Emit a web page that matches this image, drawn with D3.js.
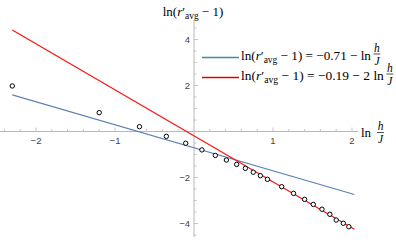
<!DOCTYPE html>
<html><head><meta charset="utf-8">
<script src="https://cdn.jsdelivr.net/npm/d3@7"></script>
<style>
html,body{margin:0;padding:0;background:#fff;}
svg{display:block;}
</style></head>
<body>
<script>
// ---- data ----
const xPoints = [-2.30, -1.20, -0.69, -0.35, -0.105, 0.10, 0.27, 0.41, 0.54, 0.65, 0.75, 0.84, 0.93, 1.11, 1.26, 1.40, 1.51, 1.62, 1.72, 1.80, 1.89, 1.96];
const yPoints = [1.98, 0.82, 0.21, -0.21, -0.51, -0.80, -1.04, -1.24, -1.43, -1.60, -1.77, -1.92, -2.08, -2.40, -2.69, -2.95, -3.17, -3.38, -3.60, -3.85, -3.99, -4.14];
const fitNames = ["blue", "red"];
const fitIntercepts = [-0.71, -0.19];
const fitSlopes = [-1, -2];
const fitCoefText = ["\u22120.71  \u2212 ln", "\u22120.19  \u2212 2 ln"];
const fitRange = [-2.30, 2.03];
const xTicks = [-2, -1, 1, 2];
const yTicks = [-4, -2, 2, 4];

const W = 396, H = 244;
const colors = {blue: "#5E81B5", red: "#FF1010"};
const legendColors = {blue: "#4a86aa", red: "#e00000"};

const svg = d3.select("body").append("svg").attr("width", W).attr("height", H);

const x = d3.scaleLinear().domain([-2, 2]).range([36, 352]);
const y = d3.scaleLinear().domain([-4, 4]).range([223.5, 39.5]);

const axisColor = "#b8b8b8";
const tickTextColor = "#444";
const serif = "'Liberation Serif', 'DejaVu Serif', serif";
const sans = "'Liberation Sans', Arial, sans-serif";

// axes
const ax = svg.append("g");
ax.append("line").attr("x1", 0).attr("x2", x(2.08)).attr("y1", y(0)).attr("y2", y(0))
  .attr("stroke", axisColor).attr("stroke-width", 1);
ax.append("line").attr("x1", x(0)).attr("x2", x(0)).attr("y1", y(4.85)).attr("y2", y(-4.6))
  .attr("stroke", axisColor).attr("stroke-width", 1);

// x ticks
const xMinor = d3.range(-24, 21, 2).map(v => v / 10).filter(v => Math.abs(v) > 1e-9);
ax.selectAll(".xm").data(xMinor).enter().append("line")
  .attr("x1", d => x(d)).attr("x2", d => x(d))
  .attr("y1", y(0)).attr("y2", d => Math.abs(d - Math.round(d)) < 1e-9 ? y(0) - 4 : y(0) - 2.5)
  .attr("stroke", axisColor).attr("stroke-width", 0.8);
ax.selectAll(".xl").data(xTicks).enter().append("text")
  .attr("x", d => x(d)).attr("y", y(0) + 12).attr("text-anchor", "middle")
  .attr("font-family", sans).attr("font-size", 9.5).attr("fill", tickTextColor)
  .text(d => d < 0 ? "\u2212" + Math.abs(d) : d);

// y ticks
const yMinor = d3.range(-9, 10, 1).map(v => v / 2).filter(v => v !== 0);
ax.selectAll(".ym").data(yMinor).enter().append("line")
  .attr("x1", x(0)).attr("x2", d => Number.isInteger(d / 2) ? x(0) + 4 : x(0) + 2.5)
  .attr("y1", d => y(d)).attr("y2", d => y(d))
  .attr("stroke", axisColor).attr("stroke-width", 0.8);
ax.selectAll(".yl").data(yTicks).enter().append("text")
  .attr("x", x(0) - 4).attr("y", d => y(d) + 3.5).attr("text-anchor", "end")
  .attr("font-family", sans).attr("font-size", 9.5).attr("fill", tickTextColor)
  .text(d => d < 0 ? "\u2212" + Math.abs(d) : d);

// fit lines
const line = d3.line().x(d => x(d[0])).y(d => y(d[1]));
fitNames.forEach((n, i) => {
  const pts = fitRange.map(v => [v, fitIntercepts[i] + fitSlopes[i] * v]);
  svg.append("path").attr("d", line(pts)).attr("fill", "none")
    .attr("stroke", colors[n]).attr("stroke-width", 1.2);
});

// points
svg.selectAll(".pt").data(xPoints.map((v, i) => [v, yPoints[i]])).enter().append("circle")
  .attr("cx", d => x(d[0])).attr("cy", d => y(d[1])).attr("r", 2.2)
  .attr("fill", "#fff").attr("stroke", "#000").attr("stroke-width", 1);

// helper: fraction h/J (stacked, h above bar, J below)
function fraction(g, cx, cyBar, size) {
  g.append("text").attr("x", cx).attr("y", cyBar - 2.3).attr("text-anchor", "middle")
    .attr("font-family", serif).attr("font-style", "italic").attr("font-size", size).text("h");
  g.append("line").attr("x1", cx - size * 0.3).attr("x2", cx + size * 0.3)
    .attr("y1", cyBar).attr("y2", cyBar).attr("stroke", "#000").attr("stroke-width", 0.7);
  g.append("text").attr("x", cx).attr("y", cyBar + size * 0.93).attr("text-anchor", "middle")
    .attr("font-family", serif).attr("font-style", "italic").attr("font-size", size).text("J");
}

function rlabel(g, xx, yy, size, rest) {
  const t = g.append("text").attr("x", xx).attr("y", yy).attr("font-family", serif)
    .attr("font-size", size).attr("fill", "#000");
  t.append("tspan").text("ln(");
  t.append("tspan").attr("font-style", "italic").text("r");
  t.append("tspan").text("\u2032");
  t.append("tspan").attr("font-size", size * 0.72).attr("dy", size * 0.28).text("avg");
  t.append("tspan").attr("dy", -size * 0.28).text(" \u2212 1)" + rest);
  return t;
}

// y axis title
const yt = svg.append("g");
const ytt = rlabel(yt, 0, 15.5, 13, "");
const ylen = ytt.node().getComputedTextLength();
ytt.attr("x", 193 - ylen / 2);

// x axis title
const xt = svg.append("g");
xt.append("text").attr("x", 361).attr("y", 137).attr("font-family", serif)
  .attr("font-size", 13).text("ln");
fraction(xt, 380.5, 132.5, 11.5);

// legend
const lg = svg.append("g");
const legendTargetEnd = [371, 384];
fitNames.forEach((n, i) => {
  const yy = 57.5 + i * 20;
  lg.append("line").attr("x1", 202).attr("x2", 239).attr("y1", yy).attr("y2", yy)
    .attr("stroke", legendColors[n]).attr("stroke-width", 1.3);
  const base = 11.5;
  const probe = rlabel(lg, 241, yy + 2, base, " = " + fitCoefText[i]);
  const len0 = probe.node().getComputedTextLength();
  probe.remove();
  const size = Math.min(14, base * (legendTargetEnd[i] - 241) / len0);
  const t = rlabel(lg, 241, yy + 2, size, " = " + fitCoefText[i]);
  const len = t.node().getComputedTextLength();
  fraction(lg, 241 + len + 6, yy - 3.5, 11.5);
});
</script>
</body></html>
